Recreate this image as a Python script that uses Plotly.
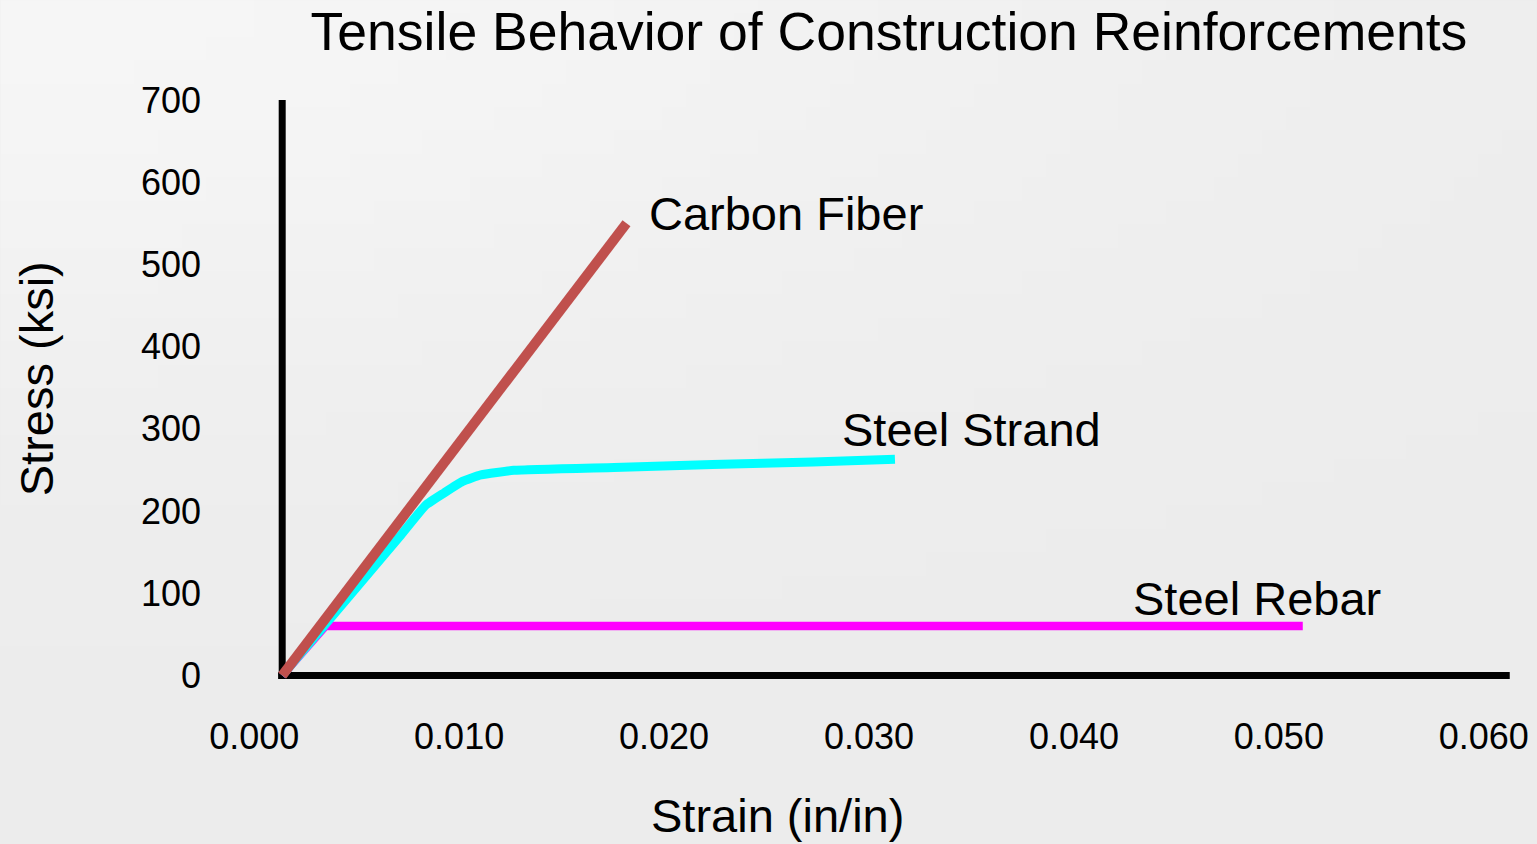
import base64
import math
import struct
import zlib

import plotly.graph_objects as go

# Stress-strain curves (strain in in/in, stress in ksi)
carbon_strain = [0.0, 0.0168]
carbon_stress = [0, 550]

strand_strain = [0.0, 0.0058, 0.0070, 0.0079, 0.0088, 0.0097, 0.0113, 0.0162, 0.0210, 0.0259, 0.0299]
strand_stress = [0, 171, 207, 222, 236, 244, 249.5, 253, 256.5, 259.5, 263]

rebar_strain = [0.0, 0.0021, 0.0498]
rebar_stress = [0, 60, 60]

x_ticks = [0.0, 0.01, 0.02, 0.03, 0.04, 0.05, 0.06]
x_tick_labels = ["0.000", "0.010", "0.020", "0.030", "0.040", "0.050", "0.060"]
y_ticks = [0, 100, 200, 300, 400, 500, 600, 700]

FONT = "Liberation Sans, Arial, sans-serif"
BG = "#ededed"
W, H = 1537, 844


def gradient_png(w=64, h=36):
    """Small grey PNG, lighter towards the upper left; stretched over the page."""
    rows = b""
    for j in range(h):
        row = b"\x00"
        for i in range(w):
            u, v = i / (w - 1), j / (h - 1)
            g = 236 + 10 * math.exp(-((u / 0.75) ** 2 + (v / 0.45) ** 2))
            g = int(round(min(255, g)))
            row += bytes((g, g, g))
        rows += row

    def chunk(tag, data):
        c = tag + data
        return struct.pack(">I", len(data)) + c + struct.pack(">I", zlib.crc32(c) & 0xFFFFFFFF)

    png = b"\x89PNG\r\n\x1a\n"
    png += chunk(b"IHDR", struct.pack(">IIBBBBB", w, h, 8, 2, 0, 0, 0))
    png += chunk(b"IDAT", zlib.compress(rows, 9))
    png += chunk(b"IEND", b"")
    return "data:image/png;base64," + base64.b64encode(png).decode()


# axis ranges padded slightly below zero so the heavy axis strokes are not clipped
x_range = [-0.0004, 0.0604]
y_range = [-8, 700]
px_per_x = 20500.0
px_per_y = 575.5 / 700.0
plot_left = 282 - (0 - x_range[0]) * px_per_x
plot_w = (x_range[1] - x_range[0]) * px_per_x
plot_top = 100
plot_h = (y_range[1] - y_range[0]) * px_per_y


def paper_x(px):
    return (px - plot_left) / plot_w


def paper_y(py):
    return 1 - (py - plot_top) / plot_h


fig = go.Figure()

fig.add_trace(go.Scatter(x=rebar_strain, y=rebar_stress, mode="lines",
                         line=dict(color="#ff00ff", width=8.5), name="Steel Rebar"))
fig.add_trace(go.Scatter(x=strand_strain, y=strand_stress, mode="lines",
                         line=dict(color="#00ffff", width=9, shape="spline", smoothing=0.4),
                         name="Steel Strand"))
fig.add_trace(go.Scatter(x=carbon_strain, y=carbon_stress, mode="lines",
                         line=dict(color="#c0504d", width=10), name="Carbon Fiber"))

# heavy black axes through the origin
fig.add_shape(type="line", xref="x", yref="y", x0=0, x1=0, y0=0, y1=700,
              line=dict(color="black", width=7), layer="below")
fig.add_shape(type="line", xref="x", yref="y", x0=-0.0002, x1=0.0599, y0=0, y1=0,
              line=dict(color="black", width=7), layer="below")

# curve labels
labels = [
    ("Carbon Fiber", 0.0178, 562),
    ("Steel Strand", 0.0272, 299),
    ("Steel Rebar", 0.0414, 94),
]
for text, lx, ly in labels:
    fig.add_annotation(x=lx, y=ly, xref="x", yref="y", text=text, showarrow=False,
                       xanchor="left", yanchor="middle",
                       font=dict(family=FONT, size=47, color="black"))

# axis titles
fig.add_annotation(x=paper_x(777.5), y=paper_y(816), xref="paper", yref="paper",
                   text="Strain (in/in)", showarrow=False,
                   xanchor="center", yanchor="middle",
                   font=dict(family=FONT, size=47, color="black"))
fig.add_annotation(x=paper_x(37), y=paper_y(379), xref="paper", yref="paper",
                   text="Stress (ksi)", showarrow=False, textangle=-90,
                   xanchor="center", yanchor="middle",
                   font=dict(family=FONT, size=47, color="black"))

fig.update_layout(
    width=W, height=H,
    margin=dict(l=plot_left, r=W - plot_left - plot_w, t=plot_top,
                b=H - plot_top - plot_h, autoexpand=False),
    paper_bgcolor=BG, plot_bgcolor="rgba(0,0,0,0)",
    showlegend=False,
    title=dict(text="Tensile Behavior of Construction Reinforcements",
               x=889 / W, xanchor="center", y=1 - 31 / H, yanchor="middle",
               font=dict(family=FONT, size=53.5, color="black")),
    font=dict(family=FONT, color="black"),
    images=[dict(source=gradient_png(), xref="paper", yref="paper",
                 x=-plot_left / plot_w, y=1 + plot_top / plot_h,
                 sizex=W / plot_w, sizey=H / plot_h,
                 xanchor="left", yanchor="top", sizing="stretch", layer="below")],
)
fig.update_xaxes(range=x_range, tickvals=x_ticks, ticktext=x_tick_labels,
                 showgrid=False, zeroline=False, showline=False, ticks="",
                 tickfont=dict(family=FONT, size=36, color="black"),
                 ticklabelshift=-28, ticklabelstandoff=30)
fig.update_yaxes(range=y_range, tickvals=y_ticks,
                 showgrid=False, zeroline=False, showline=False, ticks="",
                 tickfont=dict(family=FONT, size=36, color="black"),
                 ticklabelstandoff=72)

fig.write_html("out.html", config={"displayModeBar": False})
